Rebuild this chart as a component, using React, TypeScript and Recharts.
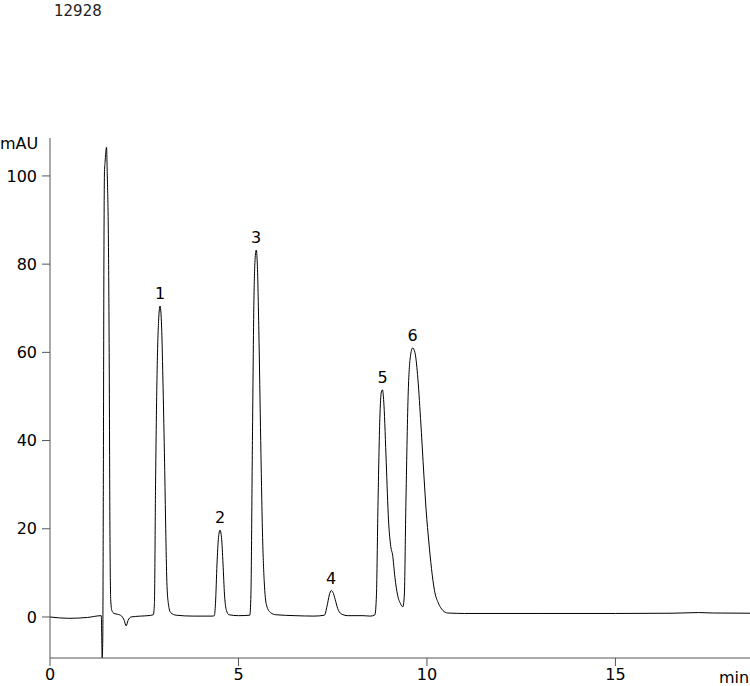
import React from 'react';
import { LineChart, Line, XAxis, YAxis, ReferenceDot } from 'recharts';

// retention time (min) and absorbance (mAU)
const times = [
  0, 0.5, 1.0, 1.36, 1.385, 1.4, 1.415, 1.43, 1.445, 1.46, 1.5, 1.52, 1.55, 1.57, 1.59, 1.61, 1.64, 1.7, 1.8, 1.9,
  1.97, 2.02, 2.07, 2.15, 2.4, 2.6,
  2.74, 2.77, 2.8, 2.84, 2.88, 2.92, 2.96, 3.0, 3.04, 3.07, 3.1, 3.14, 3.2, 3.35, 3.8, 4.3,
  4.36, 4.39, 4.43, 4.47, 4.51, 4.55, 4.59, 4.63, 4.68, 4.75, 5.0,
  5.3, 5.33, 5.37, 5.41, 5.44, 5.47, 5.5, 5.54, 5.59, 5.64, 5.69, 5.75, 5.85, 6.0, 6.5, 7.0,
  7.28, 7.35, 7.41, 7.46, 7.52, 7.58, 7.65, 7.75, 7.9, 8.3, 8.5,
  8.62, 8.66, 8.7, 8.75, 8.79, 8.82, 8.86, 8.92, 8.98, 9.04, 9.09, 9.15, 9.22, 9.3, 9.36,
  9.4, 9.44, 9.5, 9.56, 9.62, 9.68, 9.75, 9.83, 9.92, 9.98, 10.05, 10.12, 10.2, 10.3, 10.42, 10.55,
  11, 13, 15, 16.5, 17.2, 17.6, 18.57,
];
const mAU = [
  0, -0.3, -0.1, 0.3, -9.3, -5, 30, 80, 101, 103, 106.5, 100, 85, 60, 20, 4, 1.5, 0.8, 0.6, 0.2,
  -0.8, -2.0, -0.8, 0.0, 0.2, 0.3,
  0.5, 3, 30, 55, 67, 70.5, 66, 52, 35, 20, 8, 3, 1, 0.4, 0.2, 0.2,
  0.3, 3, 12, 18, 19.7, 18, 12, 5, 1.5, 0.5, 0.3,
  0.4, 5, 40, 72, 81, 83.2, 80, 65, 40, 18, 7, 2.5, 1, 0.5, 0.3, 0.2,
  0.4, 2.5, 5, 6, 5.3, 3.5, 1.5, 0.6, 0.3, 0.3, 0.2,
  0.5, 5, 25, 45, 51, 51.5, 48, 35, 22, 16, 14, 9, 5, 3, 2.3,
  5, 25, 50, 59, 61, 60, 55, 45, 32, 24, 17, 11, 6, 3.2, 1.5, 0.9,
  0.8, 0.8, 0.8, 0.85, 1.0, 0.9, 0.85,
];

const peakNames = ['1', '2', '3', '4', '5', '6'];
const peakTimes = [2.92, 4.51, 5.47, 7.46, 8.82, 9.62];
const peakHeights = [70.5, 19.7, 83.2, 6, 51.5, 61];

const xTicks = [0, 5, 10, 15];
const yTicks = [0, 20, 40, 60, 80, 100];

const data = times.map((t, i) => ({ t, v: mAU[i] }));

const FONT = 'DejaVu Sans, Verdana, sans-serif';
const AXIS = '#555';
const FS = 16;

const textStyle: React.CSSProperties = {
  position: 'absolute',
  fontFamily: FONT,
  fontSize: FS,
  color: '#000',
  lineHeight: 1,
  whiteSpace: 'nowrap',
};

export default function App() {
  return (
    <div style={{ position: 'absolute', left: 0, top: 0, width: 750, height: 686, background: '#fff' }}>
      <div style={{ ...textStyle, left: 54, top: 4, fontSize: 15, color: '#222' }}>12928</div>
      <div style={{ ...textStyle, left: 0, top: 136 }}>mAU</div>
      <div style={{ ...textStyle, left: 719, top: 670 }}>min</div>
      <LineChart
        width={750}
        height={686}
        data={data}
        margin={{ top: 138, right: 0, left: 0, bottom: 0 }}
        style={{ fontFamily: FONT }}
      >
        <XAxis
          dataKey="t"
          type="number"
          domain={[0, 18.57]}
          ticks={xTicks}
          height={28}
          tickSize={8}
          tickMargin={3}
          stroke={AXIS}
          tick={{ fill: '#000', fontSize: FS }}
        />
        <YAxis
          type="number"
          domain={[-9.3, 108.6]}
          ticks={yTicks}
          width={50}
          tickSize={8}
          tickMargin={5}
          stroke={AXIS}
          tick={{ fill: '#000', fontSize: FS }}
        />
        <Line
          type="monotone"
          dataKey="v"
          stroke="#000"
          strokeWidth={1}
          dot={false}
          isAnimationActive={false}
        />
        {peakNames.map((name, i) => (
          <ReferenceDot
            key={name}
            x={peakTimes[i]}
            y={peakHeights[i]}
            r={0}
            stroke="none"
            fill="none"
            label={{ value: name, position: 'top', offset: 7, fill: '#000', fontSize: FS }}
          />
        ))}
      </LineChart>
    </div>
  );
}
